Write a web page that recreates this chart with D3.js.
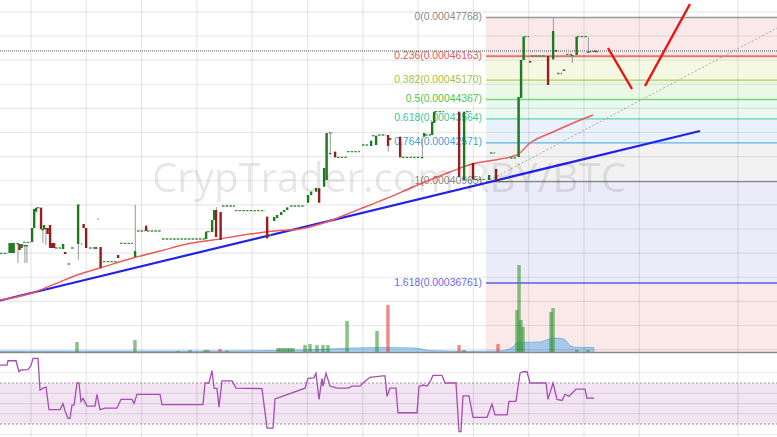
<!DOCTYPE html>
<html><head><meta charset="utf-8">
<script src="https://cdn.jsdelivr.net/npm/d3@7"></script>
<style>html,body{margin:0;padding:0;background:#fff;overflow:hidden}</style>
</head><body><svg id="c" width="777" height="437"></svg>
<script>
// ---------- DATA (time in hours, prices in satoshi) ----------
// candles: [time, open, high, low, close]
const candles = [
 [-2.33,38005,38419,38005,38419],[-2.12,38005,38419,38005,38419],[-1.90,38005,38419,38005,38419],
 [-1.46,38419,38419,37590,38419],[-1.25,38378,38378,38129,38129],[-1.03,38212,38378,38212,38378],
 [-0.71,38336,38336,37590,38336],[-0.49,38336,38336,37590,38336],
 [0.11,38461,39041,38461,39041],[0.33,39041,39829,39041,39829],[0.54,39717,39883,39717,39883],
 [1.08,39883,39883,38999,38999],[1.25,38999,38999,38419,38999],[1.41,38999,39165,38999,39165],
 [1.57,39041,39041,38336,39041],[1.79,39041,39041,38792,38792],[2.06,39165,39165,38212,38212],
 [2.28,38419,38419,38212,38212],[2.50,38419,38419,38212,38212],[3.47,38171,38378,38171,38378],
 [3.69,38046,38046,37963,37963],[5.10,38378,39994,37714,39994],[5.70,39207,39207,39041,39041],
 [5.97,39041,39041,38212,38212],[7.05,38171,38253,38171,38253],[7.54,38253,38253,37383,37383],
 [9.44,37922,37922,37797,37797],[11.28,37839,39994,37839,38088],[12.48,39136,39136,38917,38917],
 [18.99,38585,38888,38585,38888],[19.64,38876,39373,38876,39373],[19.86,39373,39788,39373,39788],
 [20.07,39788,39912,38668,38668],[20.56,39704,39704,38544,38544],[25.61,39510,39510,38614,38614],
 [26.37,39331,39497,39331,39497],[26.69,39456,39580,39456,39580],[27.13,39580,39704,39580,39704],
 [27.45,39704,39788,39704,39788],[27.78,39788,39891,39788,39891],
 [30.05,40090,40409,40090,40409],[30.38,40409,40546,40409,40546],[30.92,40546,40700,40546,40700],
 [31.25,40687,40687,40090,40090],[31.79,40753,41529,40753,41529],[32.06,41031,42980,41031,42980],
 [32.44,42151,42980,42151,42151],[32.98,42205,42205,41972,41972],[36.89,42441,42661,42441,42661],
 [37.43,42482,42868,42482,42868],[38.73,42897,42897,42205,42441],[38.95,42690,42772,42690,42772],
 [40.04,42826,42826,41972,41972],[42.42,41985,42772,41985,41985],[42.64,42826,42980,42826,42980],
 [43.51,42897,43448,42897,43448],[43.73,43394,43863,43394,43863],[46.44,43863,43863,41156,41156],
 [46.98,41031,43863,41031,43863],[47.95,41736,41736,41060,41060],[49.69,41031,41239,41031,41239],
 [50.45,41487,41487,40961,40961],[52.89,41985,44472,41985,44472],[53.16,44431,46006,44431,46006],
 [53.44,46006,46972,46006,46972],[54.14,45965,45965,45903,45903],[56.09,46172,46172,44970,44970],
 [56.64,46035,47748,46035,47209],[56.96,46421,46421,46359,46359],[57.83,45550,45613,45550,45613],
 [58.70,46214,46214,45882,46214],[59.19,46214,46972,46214,46972],[60.43,46351,46972,46351,46351],
 [61.19,46392,46392,46338,46338]
];
// runs of flat (doji) candles: [startTime, endTime, price]
const flatRuns = [
 [-3.36,-2.50,37992],[-0.87,0,38448],[0.65,0.98,39883],[2.60,3.25,38212],[3.96,4.29,37549],
 [4.34,4.77,38212],[4.99,5.32,39994],[5.42,5.56,38378],[6.29,6.94,38212],[7.22,7.33,39414],
 [7.81,9.33,37644],[9.66,11.07,38407],[11.50,12.37,38917],[12.59,14.10,38917],[14.21,18.88,38585],
 [19.10,19.53,38888],[20.72,22.13,39953],[22.13,25.39,39759],[25.82,26.26,38751],[28.10,29.73,39953],
 [32.33,32.77,42980],[33.20,34.29,41972],[34.29,35.70,42205],[35.91,36.56,42482],[37.00,37.32,42868],
 [37.65,38.52,42897],[40.25,42.21,41972],[42.75,43.40,42897],[43.83,44.81,43863],[47.20,47.74,43863],
 [48.17,49.37,41060],[49.80,50.34,42151],[50.67,51.86,40961],[51.97,52.62,41943],[53.49,54.03,46972],
 [54.25,55.88,46172],[57.07,57.62,45447],[58.05,58.70,46243],[59.24,60.43,46972],[60.54,61.08,46351],
 [61.30,61.52,46351]
];
// moving average of price: [time, price]
const maLine = [
 [-3.36,36056],[0.11,36346],[2.06,36638],[5.32,37134],[7.49,37383],[11.07,37797],[14.00,38088],
 [16.93,38378],[19.75,38544],[23.76,38793],[26.47,38917],[29.19,38999],[31.90,39269],[34.07,39580],
 [36.24,39912],[38.41,40244],[42.21,40865],[45.46,41363],[47.85,41695],[50.89,41902],[52.73,42068],
 [54.14,42565],[56.64,43021],[58.81,43394],[60.98,43726]
];
const trendLine = [[-3.36,36035],[72.59,43063]];
const dottedTrend = [[49.80,41031],[80.94,47333]];
const arrowDown = [[62.60,46504],[65.21,44804]];
const arrowUp = [[66.62,44928],[71.50,48328]];
const lastPrice = 46380;
// fibonacci retracement
const fibStart = 49.37;
const fibRatios = [0,0.236,0.382,0.5,0.618,0.764,1,1.618];
const fibPrices = [47768,46163,45170,44367,43564,42571,40965,36761];
const fibLineColors = ["#9a9a9a","#e57373","#b5cc55","#77d677","#5fd3ad","#5db2e3","#8a8a8a","#8080e6"];
const fibTextColors = ["#8c8c8c","#e05a5a","#a4bf3c","#4cc64c","#3cc79a","#3ea2d8","#8a8a8a","#6b6be0"];
const fibZoneColors = ["#fbe9e9","#f5f9e4","#ebf8e7","#e9f8f1","#e9f1fb","#f2f2f2","#ebebfa","#fae9e9"];
// volume: [time, volume, up(1)/down(0)]
const volumes = [
 [4.99,1.0,1],[11.28,1.2,1],[15.95,0.1,1],[17.25,0.2,1],[18.88,0.2,1],[19.2,0.2,1],[20.51,0.3,0],[21.27,0.15,1],
 [26.8,0.4,1],[27.12,0.4,1],[27.45,0.4,1],[27.78,0.4,1],[28.10,0.4,1],[28.43,0.4,1],
 [29.73,0.7,1],[30.27,0.8,1],[31.03,0.7,1],[31.68,0.7,1],[32.22,0.7,1],[34.29,3.1,1],[37.54,2.1,1],
 [38.73,4.7,0],[46.44,0.7,0],[46.98,0.2,1],[50.67,0.8,0],[52.73,4.2,1],[52.95,8.7,1],[53.16,3.2,1],
 [53.38,2.5,1],[56.42,4.0,1],[56.64,4.4,1],[59.24,0.2,1],[60.43,0.2,1]
];
const volumeMA = [
 [-3.36,0.15],[7.49,0.15],[18.34,0.15],[29.19,0.25],[33.53,0.4],[37.87,0.5],[41.66,0.45],[43.29,0.2],
 [47.63,0.12],[50.89,0.15],[52.19,0.5],[52.84,1.0],[55.22,1.05],[56.09,1.3],[56.96,1.45],[57.83,1.35],
 [58.5,0.7],[59.2,0.5],[61.08,0.5]
];
// RSI: [time, value]
const rsiData = [
 [-3.36,87.5],[-2.60,87.5],[-2.50,91.7],[-1.63,91.7],[-1.30,81],[-1.08,82.7],[-0.33,83],[0,87],[0.22,94],
 [0.76,94],[0.98,63],[1.30,65],[1.63,66],[1.95,44],[3.15,44],[3.47,50],[3.69,43],[4.01,35.5],[4.23,35.5],
 [4.45,48.5],[4.67,48.5],[4.99,70],[5.21,70],[5.42,52],[5.64,55],[6.08,47.5],[6.94,47.5],[7.16,59],
 [7.49,44],[8.03,45.5],[9.33,45.5],[9.76,54],[10.96,54],[11.18,50],[11.50,59],[14.00,59],[14.21,49],
 [18.66,49],[18.88,70],[19.31,70],[19.64,82],[19.86,65],[20.18,64.5],[20.40,46.5],[20.72,72],[21.81,72],
 [22.24,65],[25.06,64.5],[25.61,26],[26.26,26],[26.47,54.5],[26.80,55.5],[29.73,65],[30.05,74.5],
 [30.70,75],[30.92,79.5],[31.25,54],[31.57,74.5],[31.68,67],[32.01,79.5],[32.44,67],[33.20,65],[34.39,65],
 [34.83,67],[35.70,67],[36.02,70],[36.78,75.5],[38.19,77],[38.41,77],[38.63,57],[38.95,65],[39.60,65],
 [39.82,41],[41.88,41],[42.10,66.5],[42.53,68],[42.97,67],[43.29,71],[43.62,77.5],[44.59,77.5],[44.92,70],
 [46.11,70],[46.44,22.5],[46.65,22.5],[46.87,57.5],[47.52,57.5],[47.96,36.5],[49.48,36.5],[50.02,49.5],
 [50.34,39],[51.65,39],[51.86,52],[52.62,52],[53.06,79.5],[53.38,81],[53.82,81],[54.14,70],[55.88,70],
 [56.09,54],[56.64,70],[57.07,54],[57.62,53],[57.94,59],[58.37,57],[58.70,60],[59.13,64],[60.11,64],
 [60.32,55],[60.87,55.5],[61.08,55]
];
const timeTicks = [0,6,12,18,24,30,36,42,48,54,60,66,76.7];
const priceTicks = [34000,35000,36000,37000,38000,39000,40000,41000,42000,43000,44000,45000,46000,47000,48000];
const rsiTicks = [20,40,50,60,80];
const rsiBands = [30,70];
const watermark = "CrypTrader.com RBY/BTC";

// ---------- CHART ----------
const W = 777, H = 437, priceBottom = 352.5;
const svg = d3.select("#c");
const x = d3.scaleLinear().domain([0,72]).range([31, 31 + 72*55.3/6]);
const y = d3.scaleLinear().domain([36761,47768]).range([283,17.5]);
const yv = d3.scaleLinear().domain([0,10]).range([priceBottom, priceBottom-100]);
const yr = d3.scaleLinear().domain([30,70]).range([424,383]);
const fmt = s => "0.000" + String(s).padStart(5,"0");

svg.append("rect").attr("width",W).attr("height",H).attr("fill","#fff");
svg.append("clipPath").attr("id","pc").append("rect").attr("width",W).attr("height",priceBottom);
const P = svg.append("g").attr("clip-path","url(#pc)");

// fib zones
const zoneBottoms = fibPrices.slice(1).concat([y.invert(priceBottom+5)]);
P.selectAll("rect.zone").data(fibPrices).join("rect")
  .attr("x", x(fibStart)).attr("width", W - x(fibStart))
  .attr("y", d => y(d)).attr("height", (d,i) => y(zoneBottoms[i]) - y(d))
  .attr("fill", (d,i) => fibZoneColors[i]);

// RSI band
svg.append("rect").attr("x",0).attr("width",W).attr("y",yr(70)).attr("height",yr(30)-yr(70)).attr("fill","#f2e4f3");

// grid
const grid = svg.append("g").attr("stroke","rgba(0,0,0,0.09)").attr("stroke-width",1.2);
grid.selectAll("line.h").data(priceTicks).join("line")
  .attr("x1",0).attr("x2",W).attr("y1",d=>y(d)).attr("y2",d=>y(d));
grid.selectAll("line.r").data(rsiTicks).join("line").attr("class","r")
  .attr("x1",0).attr("x2",W).attr("y1",d=>yr(d)).attr("y2",d=>yr(d));
grid.selectAll("line.v").data(timeTicks).join("line").attr("class","v")
  .attr("y1",0).attr("y2",H).attr("x1",d=>x(d)).attr("x2",d=>x(d));
svg.selectAll("line.band").data(rsiBands).join("line").attr("class","band")
  .attr("x1",0).attr("x2",W).attr("y1",d=>yr(d)).attr("y2",d=>yr(d))
  .attr("stroke","#999").attr("stroke-dasharray","2,2").attr("stroke-width",1);

// watermark
svg.append("text").attr("x",152).attr("y",192).text(watermark)
  .attr("font-family","'Open Sans', sans-serif").attr("font-size",40)
  .attr("fill","rgba(0,0,0,0.11)").attr("textLength",474).attr("lengthAdjust","spacingAndGlyphs");

// fib lines & labels
P.selectAll("line.fib").data(fibPrices).join("line").attr("class","fib")
  .attr("x1",x(fibStart)).attr("x2",W).attr("y1",d=>y(d)).attr("y2",d=>y(d))
  .attr("stroke",(d,i)=>fibLineColors[i]).attr("stroke-width",(d,i)=>(i==1||i==7)?2:1.4);
P.selectAll("text.fib").data(fibPrices).join("text").attr("class","fib")
  .attr("x",x(fibStart)-4).attr("y",d=>y(d)+2.5).attr("text-anchor","end")
  .attr("font-family","'Liberation Sans', Arial, sans-serif").attr("font-size",10.4)
  .attr("fill",(d,i)=>fibTextColors[i])
  .text((d,i)=>fibRatios[i] + "(" + fmt(d) + ")");

// volume
P.append("path").datum(volumeMA)
  .attr("d", d3.area().x(d=>x(d[0])).y0(priceBottom).y1(d=>yv(d[1])).curve(d3.curveMonotoneX))
  .attr("fill","rgba(110,180,235,0.6)").attr("stroke","rgba(90,160,225,0.8)").attr("stroke-width",0.8);
P.selectAll("rect.vol").data(volumes).join("rect").attr("class","vol")
  .attr("x",d=>x(d[0])-1.2).attr("width",2.4)
  .attr("y",d=>yv(d[1])).attr("height",d=>priceBottom-yv(d[1]))
  .attr("fill",d=>d[2]?"rgba(60,160,60,0.6)":"rgba(240,80,80,0.65)")
  .attr("stroke",d=>d[2]?"rgba(40,130,40,0.7)":"rgba(220,60,60,0.7)").attr("stroke-width",0.5);
svg.append("line").attr("x1",0).attr("x2",W).attr("y1",priceBottom).attr("y2",priceBottom)
  .attr("stroke","#8a8a8a").attr("stroke-width",1.5);

// trend lines
const line = d3.line().x(d=>x(d[0])).y(d=>y(d[1]));
P.append("path").datum(dottedTrend).attr("d",line).attr("stroke","#aaa").attr("stroke-dasharray","2,2").attr("fill","none");
P.append("path").datum(trendLine).attr("d",line).attr("stroke","#2222ee").attr("stroke-width",2.2).attr("fill","none");
P.append("path").datum(maLine).attr("d",line.curve(d3.curveMonotoneX)).attr("stroke","#f05a5a").attr("stroke-width",1.4).attr("fill","none");
line.curve(d3.curveLinear);

// flats
P.selectAll("line.flat").data(flatRuns).join("line").attr("class","flat")
  .attr("x1",d=>x(d[0])).attr("x2",d=>x(d[1])).attr("y1",d=>y(d[2])).attr("y2",d=>y(d[2]))
  .attr("stroke","#3f8f3f").attr("stroke-width",1.3).attr("stroke-dasharray","2.5,1.2");

// candles
const cg = P.selectAll("g.c").data(candles).join("g").attr("class","c");
cg.append("line").attr("x1",d=>x(d[0])+0.4).attr("x2",d=>x(d[0])+0.4)
  .attr("y1",d=>y(d[2])).attr("y2",d=>y(d[3])).attr("stroke","#a9a9a9").attr("stroke-width",1.2);
cg.append("rect").attr("x",d=>x(d[0])-1.1).attr("width",2.4)
  .attr("y",d=>y(Math.max(d[1],d[4])))
  .attr("height",d=>Math.max(1.3, Math.abs(y(d[1])-y(d[4]))))
  .attr("fill",d=>d[4]>=d[1]?"#1f7a1f":"#962020");

// last price line
svg.append("line").attr("x1",0).attr("x2",W).attr("y1",y(lastPrice)).attr("y2",y(lastPrice))
  .attr("stroke","#555").attr("stroke-dasharray","1,1").attr("stroke-width",1);

// drawn arrows
[arrowDown, arrowUp].forEach(a => svg.append("path").datum(a).attr("d",line)
  .attr("stroke","#ee1111").attr("stroke-width",2.4).attr("fill","none"));

// RSI line
svg.append("path").datum(rsiData).attr("d", d3.line().x(d=>x(d[0])).y(d=>yr(d[1])))
  .attr("stroke","#a64db3").attr("stroke-width",1.3).attr("fill","none");
</script></body></html>
